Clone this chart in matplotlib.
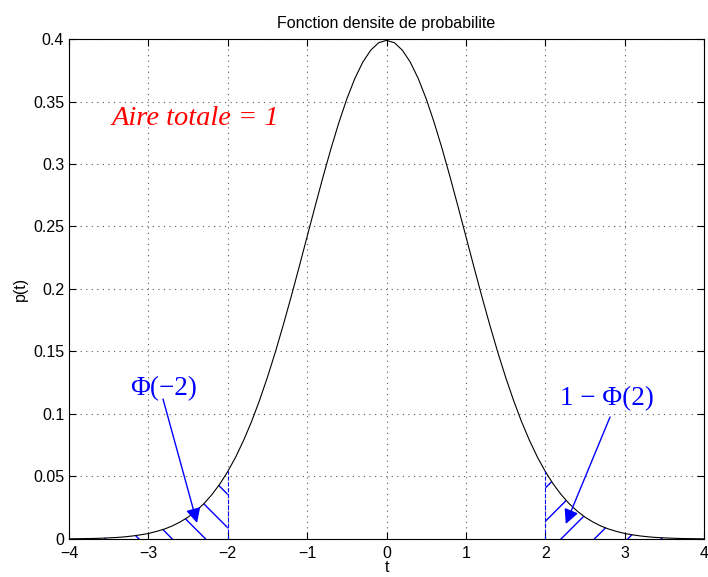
import matplotlib
matplotlib.use("Agg")
from matplotlib import pyplot as plt
import numpy as np

# densite lue sur la courbe, pas de 0.1 entre -4 et 4
p = [0.0001, 0.0002, 0.0003, 0.0004, 0.0006, 0.0009, 0.0012, 0.0017, 0.0024, 0.0033,
     0.0044, 0.0060, 0.0079, 0.0104, 0.0136, 0.0175, 0.0224, 0.0283, 0.0355, 0.0440,
     0.0540, 0.0656, 0.0790, 0.0940, 0.1109, 0.1295, 0.1497, 0.1714, 0.1942, 0.2179,
     0.2420, 0.2661, 0.2897, 0.3123, 0.3332, 0.3521, 0.3683, 0.3814, 0.3910, 0.3970,
     0.3989,
     0.3970, 0.3910, 0.3814, 0.3683, 0.3521, 0.3332, 0.3123, 0.2897, 0.2661, 0.2420,
     0.2179, 0.1942, 0.1714, 0.1497, 0.1295, 0.1109, 0.0940, 0.0790, 0.0656, 0.0540,
     0.0440, 0.0355, 0.0283, 0.0224, 0.0175, 0.0136, 0.0104, 0.0079, 0.0060, 0.0044,
     0.0033, 0.0024, 0.0017, 0.0012, 0.0009, 0.0006, 0.0004, 0.0003, 0.0002, 0.0001]
t = np.linspace(-4, 4, len(p))
p = np.array(p)

seuil = 2
xticks = [-4, -3, -2, -1, 0, 1, 2, 3, 4]
yticks = [0, 0.05, 0.1, 0.15, 0.2, 0.25, 0.3, 0.35, 0.4]

plt.rcParams['font.family'] = ['Liberation Sans', 'DejaVu Sans']
plt.rcParams['hatch.linewidth'] = 1.0

fig = plt.figure(figsize=(7.08, 5.77), dpi=100)
ax = fig.add_axes([0.0975, 0.0659, 0.8969, 0.8665])

ax.plot(t, p, color='k', linewidth=0.8)

gauche = t <= -seuil + 1e-9
droite = t >= seuil - 1e-9
ax.fill_between(t[gauche], 0, p[gauche], facecolor='none', edgecolor='blue',
                hatch='\\', linewidth=0)
ax.fill_between(t[droite], 0, p[droite], facecolor='none', edgecolor='blue',
                hatch='/', linewidth=0)
p_seuil = p[np.argmin(abs(t - seuil))]
ax.vlines([-seuil, seuil], 0, p_seuil, colors='blue', linestyles='--', linewidth=0.8)

ax.text(-3.47, 0.331, 'Aire totale = 1', color='red', fontsize=20.5,
        family='Liberation Serif', style='italic')

fleche = dict(arrowstyle='-|>', color='blue', lw=1.0, mutation_scale=22,
              shrinkA=0, shrinkB=0)
ax.text(-3.23, 0.115, 'Φ(−2)', color='blue', fontsize=19.5, family='Liberation Serif')
ax.annotate('', xy=(-2.387, 0.0128), xytext=(-2.816, 0.112), arrowprops=fleche)
ax.text(2.186, 0.107, '1 − Φ(2)', color='blue', fontsize=19.5, family='Liberation Serif')
ax.annotate('', xy=(2.258, 0.012), xytext=(2.816, 0.0976), arrowprops=fleche)

ax.set_xlim(-4, 4)
ax.set_ylim(0, 0.4)
ax.set_xticks(xticks)
ax.set_yticks(yticks)
ax.set_yticklabels(['%g' % v for v in yticks])
ax.tick_params(direction='in', top=True, right=True, length=5, labelsize=11.5, width=0.8)
ax.tick_params(axis='x', pad=5)
ax.grid(True, linestyle=(0, (1, 4)), color='0.35', linewidth=0.8)
for s in ax.spines.values():
    s.set_linewidth(0.8)

ax.set_title('Fonction densite de probabilite', fontsize=11.5, pad=8)
ax.set_xlabel('t', fontsize=11.5, labelpad=-1)
ax.set_ylabel('p(t)', fontsize=11.5, labelpad=4)

fig.savefig('out.png', dpi=100)
